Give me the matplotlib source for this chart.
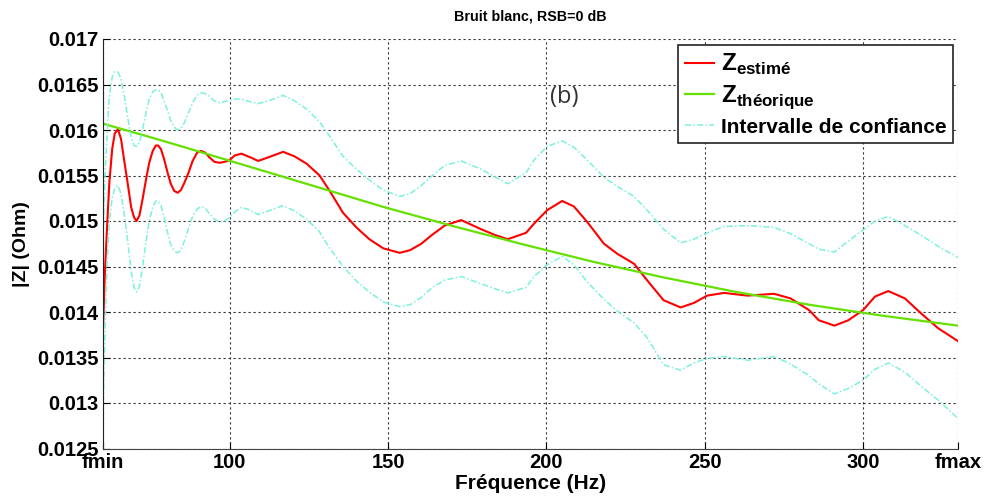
import matplotlib
matplotlib.use("Agg")
import matplotlib.pyplot as plt

plt.rcParams['font.family'] = ['Liberation Sans', 'DejaVu Sans']
plt.rcParams['mathtext.fontset'] = 'custom'
plt.rcParams['mathtext.bf'] = 'Liberation Sans:bold'
plt.rcParams['mathtext.rm'] = 'Liberation Sans'

# Frequency grid (Hz)
freq = [60, 60.6, 61.3, 62, 62.9, 63.7, 64.7, 65.7, 66.8, 67.9, 68.9, 69.8, 70.6, 71.5, 72.5,
        73.6, 74.6, 75.7, 76.7, 77.4, 78.3, 79.3, 80.4, 81.4, 82.5, 83.6, 84.6, 85.7, 87, 88.3,
        89.7, 91, 92.3, 93.6, 95.2, 96.8, 98.4, 100, 101.6, 103.7, 106.5, 109, 113, 116.9, 120.5,
        124.3, 128.4, 131.6, 135.8, 140, 144.1, 148.5, 153.7, 157, 160.5, 164, 167.9, 173.1, 179.4,
        183.5, 187.8, 193.6, 196.1, 200.3, 205, 208.7, 212.9, 218.2, 222.4, 227.7, 231.8, 237,
        242.4, 246.6, 250.8, 256.1, 263.5, 271.9, 277.1, 283, 286, 291, 295.4, 300, 303.8, 308,
        313.2, 318.5, 323.8, 330]

# Estimated impedance |Z| (Ohm)
z_est = [0.01381, 0.01443, 0.01495, 0.01542, 0.01579, 0.01596, 0.01601, 0.01590, 0.01564, 0.01539,
         0.01515, 0.01504, 0.01500, 0.01506, 0.01524, 0.01546, 0.01564, 0.01577, 0.01583, 0.01583,
         0.01579, 0.01568, 0.01553, 0.01541, 0.01533, 0.01531, 0.01534, 0.01542, 0.01553, 0.01566,
         0.01575, 0.01577, 0.01575, 0.01570, 0.01565, 0.01564, 0.01565, 0.01567, 0.01572, 0.01574,
         0.01570, 0.01566, 0.01571, 0.01576, 0.01571, 0.01563, 0.01550, 0.01533, 0.01509, 0.01493,
         0.01480, 0.01470, 0.01465, 0.01468, 0.01475, 0.01485, 0.01495, 0.01501, 0.01491, 0.01485,
         0.01480, 0.01487, 0.01497, 0.01512, 0.01522, 0.01516, 0.01499, 0.01475, 0.01464, 0.01453,
         0.01435, 0.01413, 0.01405, 0.01410, 0.01418, 0.01421, 0.01418, 0.01420, 0.01415, 0.01402,
         0.01391, 0.01385, 0.01391, 0.01402, 0.01417, 0.01423, 0.01415, 0.01398, 0.01382, 0.01368]

# Confidence interval, upper and lower bounds (Ohm)
ci_upper = [0.01480, 0.01546, 0.01597, 0.01638, 0.01658, 0.01664, 0.01664, 0.01656, 0.01636, 0.01612,
            0.01592, 0.01583, 0.01582, 0.01586, 0.01601, 0.01619, 0.01634, 0.01642, 0.01644, 0.01644,
            0.01641, 0.01632, 0.01621, 0.01610, 0.01603, 0.01600, 0.01602, 0.01608, 0.01619, 0.01630,
            0.01638, 0.01641, 0.01640, 0.01637, 0.01632, 0.01630, 0.01631, 0.01633, 0.01634, 0.01634,
            0.01631, 0.01629, 0.01633, 0.01638, 0.01632, 0.01623, 0.01609, 0.01593, 0.01571, 0.01557,
            0.01545, 0.01534, 0.01527, 0.01530, 0.01539, 0.01550, 0.01561, 0.01566, 0.01557, 0.01549,
            0.01541, 0.01553, 0.01567, 0.01582, 0.01588, 0.01581, 0.01567, 0.01548, 0.01538, 0.01527,
            0.01512, 0.01491, 0.01476, 0.01480, 0.01487, 0.01494, 0.01495, 0.01493, 0.01486, 0.01475,
            0.01469, 0.01466, 0.01478, 0.01490, 0.01500, 0.01505, 0.01495, 0.01484, 0.01472, 0.01460]

ci_lower = [0.01288, 0.01375, 0.01455, 0.01500, 0.01525, 0.01536, 0.01539, 0.01530, 0.01505, 0.01475,
            0.01445, 0.01427, 0.01422, 0.01428, 0.01450, 0.01478, 0.01500, 0.01515, 0.01522, 0.01522,
            0.01517, 0.01504, 0.01487, 0.01474, 0.01467, 0.01465, 0.01468, 0.01478, 0.01492, 0.01505,
            0.01513, 0.01516, 0.01514, 0.01508, 0.01502, 0.01499, 0.01500, 0.01504, 0.01510, 0.01515,
            0.01512, 0.01507, 0.01512, 0.01517, 0.01511, 0.01502, 0.01488, 0.01470, 0.01450, 0.01434,
            0.01422, 0.01411, 0.01406, 0.01408, 0.01416, 0.01427, 0.01435, 0.01439, 0.01431, 0.01426,
            0.01421, 0.01427, 0.01439, 0.01452, 0.01461, 0.01452, 0.01433, 0.01414, 0.01401, 0.01388,
            0.01372, 0.01342, 0.01336, 0.01344, 0.01349, 0.01351, 0.01347, 0.01351, 0.01343, 0.01330,
            0.01321, 0.01310, 0.01316, 0.01325, 0.01337, 0.01344, 0.01334, 0.01318, 0.01303, 0.01283]

# Theoretical impedance
freq_th = [60, 80, 105, 127, 149, 171, 193, 215, 237, 260, 283, 306, 330]
z_th = [0.01607, 0.01587, 0.01561, 0.01538, 0.01515, 0.01494, 0.01474, 0.01455, 0.01438, 0.01422,
        0.01408, 0.01396, 0.01385]

x_ticks = [60, 100, 150, 200, 250, 300, 330]
x_ticklabels = ['fmin', '100', '150', '200', '250', '300', 'fmax']
y_ticks = [0.0125, 0.013, 0.0135, 0.014, 0.0145, 0.015, 0.0155, 0.016, 0.0165, 0.017]
y_ticklabels = ['0.0125', '0.013', '0.0135', '0.014', '0.0145', '0.015', '0.0155', '0.016', '0.0165', '0.017']

red = '#FF0000'
green = '#66E000'
cyan = '#7AF2DC'

fig = plt.figure(figsize=(9.88, 5.01), dpi=100)
ax = fig.add_axes([103/988, 1 - 448.5/501, 855/988, 409.5/501])

ax.plot(freq, z_est, color=red, lw=1.5, label=r'$\mathbf{Z}_{\mathbf{estimé}}$')
ax.plot(freq_th, z_th, color=green, lw=1.6, label=r'$\mathbf{Z}_{\mathbf{théorique}}$')
ax.plot(freq, ci_upper, color=cyan, lw=1.1, ls=(0, (4, 1.5, 1, 1.5)), label='Intervalle de confiance')
ax.plot(freq, ci_lower, color=cyan, lw=1.1, ls=(0, (4, 1.5, 1, 1.5)))

ax.set_xlim(60, 330)
ax.set_ylim(0.0125, 0.017)
ax.set_xticks(x_ticks)
ax.set_xticklabels(x_ticklabels)
ax.set_yticks(y_ticks)
ax.set_yticklabels(y_ticklabels)
ax.tick_params(direction='in', length=5, width=0.8, labelsize=14.5, pad=3)
for lab in ax.get_xticklabels() + ax.get_yticklabels():
    lab.set_fontweight('bold')

ax.grid(True, color='#333333', lw=0.8, ls=(0, (2, 2.5)))
for s in ['top', 'right']:
    ax.spines[s].set_visible(False)
ax.spines['left'].set_color('#222222')
ax.spines['bottom'].set_color('#444444')

ax.set_xlabel('Fréquence (Hz)', fontsize=15, fontweight='bold', labelpad=2)
ax.set_ylabel('|Z| (Ohm)', fontsize=14, fontweight='bold', labelpad=5)
ax.set_title('Bruit blanc, RSB=0 dB', fontsize=10.3, fontweight='bold', pad=13)

ax.text(201.3, 0.01636, '(b)', fontsize=17, color='#333333', va='center', ha='left',
        family='Open Sans')

leg = ax.legend(loc='upper right', bbox_to_anchor=(0.994, 0.985), borderaxespad=0,
                fancybox=False, framealpha=1, edgecolor='#222222',
                prop={'weight': 'bold', 'size': 15}, handlelength=1.4, handletextpad=0.35,
                borderpad=0.3, labelspacing=0.32)
leg.get_frame().set_linewidth(1.2)
for t in leg.get_texts()[:2]:
    t.set_fontsize(17.5)

fig.savefig('out.png', dpi=100)
